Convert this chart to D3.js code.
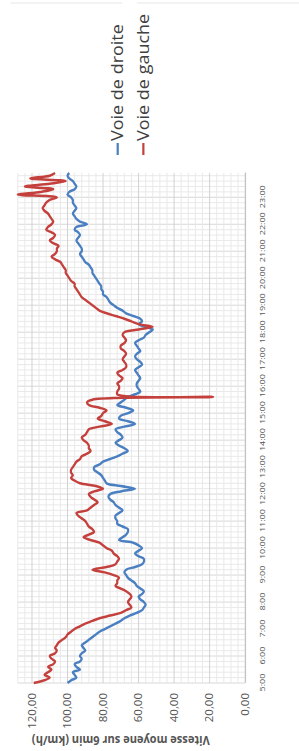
<!DOCTYPE html>
<html>
<head>
<meta charset="utf-8">
<script src="https://cdn.jsdelivr.net/npm/d3@7/dist/d3.min.js"></script>
<style>
body { margin: 0; background: #fff; }
text { font-family: "Open Sans", "Liberation Sans", sans-serif; }
</style>
</head>
<body>
<script>
// speeds every 6 min from 5:00 to 23:54 (km/h)
const droite = [
100,98,95,96,97,93,95,96,93,92,
93,92,90,91,92,90,88,86,84,82,
79,76,73,70,68,65,61,58,57,56,
57,59,60,58,57,59,61,62,64,66,
67,68,67,62,58,57,57,60,62,60,
58,60,63,71,69,67,66,66,69,72,
72,73,73,71,69,71,73,74,76,77,
76,70,62,70,78,79,80,81,83,85,
85,82,80,76,72,69,66,68,71,73,
71,69,70,72,73,68,62,66,71,70,
66,63,67,72,70,68,66,62,59,60,
61,61,60,59,60,61,62,60,58,59,
61,62,61,59,60,61,62,60,57,56,
54,52,56,60,58,59,63,67,69,72,
74,76,77,78,80,80,81,81,82,83,
84,85,86,86,87,88,90,91,92,93,
92,92,93,94,95,94,93,94,96,95,
89,93,95,96,97,96,95,96,97,97,
98,100,99,96,95,96,97,99,100,99
];
const gauche = [
119,113,110,113,111,109,111,108,107,109,
110,107,106,107,106,105,103,101,100,98,
96,93,90,86,82,76,70,67,64,65,
66,65,64,65,67,70,73,72,72,71,
74,79,86,78,73,72,71,72,74,75,
78,80,82,87,91,88,85,86,88,89,
90,92,94,95,89,87,85,83,85,87,
88,85,80,84,93,96,98,97,98,98,
97,96,95,93,92,89,87,88,88,89,
91,92,90,89,88,82,75,79,83,81,
80,78,82,88,89,86,18,72,72,71,
71,72,70,69,71,72,69,67,67,68,
69,68,67,68,70,70,68,67,68,69,
68,60,52,60,64,68,73,78,82,84,
86,88,90,92,93,94,95,96,96,98,
99,100,101,101,102,103,104,107,109,107,
106,106,105,108,110,108,107,109,112,111,
109,108,109,110,111,113,114,113,112,110,
106,128,115,108,124,110,101,121,110,107
];
const hours = d3.range(5, 24);
const speedTicks = [0, 20, 40, 60, 80, 100, 120];
const series = [
  {name: "Voie de droite", values: droite, color: "#4a7fc1"},
  {name: "Voie de gauche", values: gauche, color: "#c4403c"}
];
// minutes since midnight for each sample
const minutes = d3.range(droite.length).map(i => 300 + 6 * i);

// the chart is built landscape then turned a quarter to the left,
// and squeezed sideways like the photographed original
const W = 751, H = 299, squeeze = 0.885;

const svg = d3.select("body").append("svg")
.attr("width", H)
.attr("height", W);

const page = svg.append("g").attr("transform", `scale(${squeeze},1)`);

page.append("line").attr("x1", 12).attr("x2", 138).attr("y1", 3).attr("y2", 3)
.attr("stroke", "#e6e6e6");
page.append("line").attr("x1", 155).attr("x2", 340).attr("y1", 3).attr("y2", 3)
.attr("stroke", "#e6e6e6");

const g = page.append("g")
.attr("transform", `translate(0,${W}) rotate(-90)`);

const x = d3.scaleLinear().domain([300, 1434]).range([68, 578]);
const y = d3.scaleLinear().domain([0, 140]).range([277, -4]);
const topSpeed = 128;

// grid
g.append("g").selectAll("line")
.data(d3.range(300, 1435, 12))
.join("line")
.attr("x1", d => x(d)).attr("x2", d => x(d))
.attr("y1", y(topSpeed)).attr("y2", y(0))
.attr("stroke", d => d % 60 === 0 ? "#d6d6d6" : "#e8e8e8");

g.append("g").selectAll("line")
.data(d3.range(0, topSpeed + 1, 4))
.join("line")
.attr("x1", x(300)).attr("x2", x(1434))
.attr("y1", d => y(d)).attr("y2", d => y(d))
.attr("stroke", d => d % 20 === 0 ? "#cfcfcf" : "#e8e8e8");

// axes
const xAxis = g.append("g")
.attr("transform", `translate(0,${y(0)})`)
.call(d3.axisBottom(x)
  .tickValues(hours.map(h => h * 60))
  .tickFormat(d => `${d / 60}:00`)
  .tickSize(0)
  .tickPadding(16));
xAxis.select(".domain").attr("stroke", "#bfbfbf");
xAxis.selectAll("text").attr("font-size", 9).attr("fill", "#555");

const yAxis = g.append("g")
.attr("transform", `translate(${x(300)},0)`)
.call(d3.axisLeft(y)
  .tickValues(speedTicks)
  .tickFormat(d => d3.format(".2f")(d).replace(".", ","))
  .tickSize(0)
  .tickPadding(10));
yAxis.select(".domain").remove();
yAxis.selectAll("text").attr("font-size", 11.5).attr("fill", "#555");

g.append("text")
.attr("transform", `translate(11,${(y(0) + y(140)) / 2}) rotate(-90)`)
.attr("text-anchor", "middle")
.attr("dy", "0.35em")
.attr("font-size", 12.5)
.attr("font-weight", "bold")
.attr("fill", "#555")
.text("Vitesse moyene sur 6min (km/h)");

// lines
const line = d3.line()
.x((d, i) => x(minutes[i]))
.y(d => y(d))
.curve(d3.curveCatmullRom);

g.append("g").selectAll("path")
.data(series)
.join("path")
.attr("d", d => line(d.values))
.attr("fill", "none")
.attr("stroke", d => d.color)
.attr("stroke-width", 2.5)
.attr("stroke-linejoin", "round");

// legend
const legend = g.append("g").selectAll("g")
.data(series)
.join("g")
.attr("transform", (d, i) => `translate(596,${133 + i * 29})`);
legend.append("line")
.attr("x1", 0).attr("x2", 12)
.attr("stroke", d => d.color)
.attr("stroke-width", 2.5);
legend.append("text")
.attr("x", 14)
.attr("dy", "0.35em")
.attr("font-size", 18)
.attr("fill", "#404040")
.text(d => d.name);
</script>
</body>
</html>
